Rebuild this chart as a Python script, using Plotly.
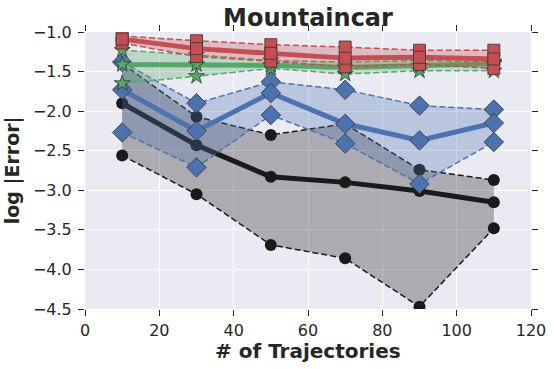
import plotly.graph_objects as go

# Data
trajectories = [10, 30, 50, 70, 90, 110]

black_mean = [-1.90, -2.43, -2.83, -2.90, -3.01, -3.15]
black_upper = [-1.40, -2.07, -2.30, -2.16, -2.74, -2.87]
black_lower = [-2.56, -3.05, -3.69, -3.86, -4.47, -3.48]

blue_mean = [-1.73, -2.25, -1.77, -2.16, -2.37, -2.15]
blue_upper = [-1.38, -1.90, -1.63, -1.73, -1.93, -1.98]
blue_lower = [-2.27, -2.71, -2.05, -2.41, -2.92, -2.39]

green_mean = [-1.41, -1.41, -1.42, -1.45, -1.43, -1.40]
green_upper = [-1.23, -1.29, -1.36, -1.38, -1.36, -1.38]
green_lower = [-1.65, -1.56, -1.46, -1.53, -1.49, -1.49]

red_mean = [-1.09, -1.21, -1.27, -1.33, -1.32, -1.34]
red_upper = [-1.05, -1.11, -1.16, -1.19, -1.23, -1.23]
red_lower = [-1.14, -1.31, -1.37, -1.44, -1.41, -1.46]

series = [
    ("black", black_mean, black_upper, black_lower, "#1a1a1a", "rgba(26,26,26,0.3)", "circle", 12),
    ("blue", blue_mean, blue_upper, blue_lower, "#4C72B0", "rgba(76,114,176,0.3)", "diamond", 15),
    ("green", green_mean, green_upper, green_lower, "#55A868", "rgba(85,168,104,0.3)", "star", 12),
    ("red", red_mean, red_upper, red_lower, "#C44E52", "rgba(196,78,82,0.3)", "square", 12),
]

fig = go.Figure()

for name, mean, upper, lower, color, fill, symbol, msize in series:
    edge = dict(width=0 if symbol == "circle" else 0.8, color="#333333")
    fig.add_trace(go.Scatter(
        x=trajectories, y=upper, mode="lines+markers",
        line=dict(color=color, width=1.5, dash="6px,3px"),
        marker=dict(symbol=symbol, size=msize, color=color, line=edge),
        showlegend=False, hoverinfo="skip"
    ))
    fig.add_trace(go.Scatter(
        x=trajectories, y=lower, mode="lines+markers",
        line=dict(color=color, width=1.5, dash="6px,3px"),
        marker=dict(symbol=symbol, size=msize, color=color, line=edge),
        fill="tonexty", fillcolor=fill,
        showlegend=False, hoverinfo="skip"
    ))
    fig.add_trace(go.Scatter(
        x=trajectories, y=mean, mode="lines+markers",
        line=dict(color=color, width=5),
        marker=dict(symbol=symbol, size=msize, color=color, line=edge),
        name=name, showlegend=False
    ))

axis_common = dict(
    showgrid=True, gridcolor="white", gridwidth=1.2,
    zeroline=False, showline=False, automargin=False,
    ticks="outside", ticklen=6, tickwidth=1, tickcolor="#262626", mirror="ticks",
    tickfont=dict(size=16, color="#262626"),
)

fig.update_layout(
    width=554, height=369,
    title=dict(text="<b>Mountaincar</b>", xref="paper", x=0.5, xanchor="center",
               yref="container", y=0.953, yanchor="middle",
               font=dict(size=24, color="#262626")),
    font=dict(family="DejaVu Sans", color="#262626"),
    paper_bgcolor="white",
    plot_bgcolor="#EAEAF2",
    margin=dict(l=85, r=23, t=32, b=60),
    xaxis=dict(range=[0, 120], dtick=20, ticklabelstandoff=1, **axis_common),
    yaxis=dict(range=[-4.5, -1.0], dtick=0.5, tickformat=".1f", ticklabelstandoff=3, **axis_common),
    annotations=[
        dict(text="<b># of Trajectories</b>", xref="paper", yref="paper", x=0.5, y=-0.152,
             xanchor="center", yanchor="middle", showarrow=False,
             font=dict(size=20, color="#262626")),
        dict(text="<b>log |Error|</b>", xref="paper", yref="paper", x=-0.162, y=0.5,
             xanchor="center", yanchor="middle", textangle=-90, showarrow=False,
             font=dict(size=19, color="#262626")),
    ],
)

# drop the browser's default body margin so the figure sits at the window's corner
fig.write_html("out.html", config={"displayModeBar": False},
               post_script="document.body.style.margin = '0';")
